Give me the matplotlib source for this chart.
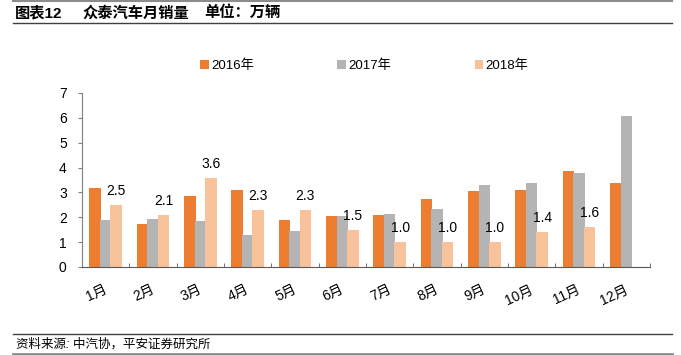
import matplotlib
matplotlib.use("Agg")
import matplotlib.pyplot as plt
import numpy as np
from matplotlib.lines import Line2D

plt.rcParams["font.family"] = ["Liberation Sans", "Noto Sans CJK SC", "DejaVu Sans"]

# 数据 (万辆)
months = ["1月", "2月", "3月", "4月", "5月", "6月", "7月", "8月", "9月", "10月", "11月", "12月"]
series_names = ["2016年", "2017年", "2018年"]
sales_2016 = [3.18, 1.74, 2.87, 3.08, 1.90, 2.04, 2.09, 2.72, 3.07, 3.11, 3.85, 3.36]
sales_2017 = [1.90, 1.93, 1.85, 1.29, 1.46, 2.06, 2.13, 2.32, 3.31, 3.38, 3.78, 6.09]
sales_2018 = [2.5, 2.1, 3.6, 2.3, 2.3, 1.5, 1.0, 1.0, 1.0, 1.4, 1.6, np.nan]

colors = ["#ED7D31", "#B4B4B4", "#F8C29B"]

fig = plt.figure(figsize=(6.81, 3.55), dpi=100)
ax = fig.add_axes([82 / 681, 1 - 267 / 355, 568 / 681, 174 / 355])

x = np.arange(len(months))
offset = 0.22
width = 0.245
for i, (vals, col) in enumerate(zip([sales_2016, sales_2017, sales_2018], colors)):
    ax.bar(x + (i - 1) * offset, vals, width=width, color=col, label=series_names[i], zorder=2)

# 2018年 数据标签
for xi, v in zip(x, sales_2018):
    if np.isnan(v):
        continue
    ax.annotate(f"{v:.1f}", (xi + offset, v), xytext=(0, 5), textcoords="offset points",
                ha="center", va="bottom", fontsize=10)

ax.set_xlim(-0.5, len(months) - 0.5)
ax.set_ylim(0, 7)
ax.set_yticks(range(8))
ax.set_xticks(x + 0.08)
ax.set_xticklabels(months, rotation=25, ha="right", va="top", fontsize=10)
ax.set_xticks(np.arange(-0.5, len(months), 1), minor=True)
ax.tick_params(axis="x", which="major", length=0, pad=11)
ax.tick_params(axis="x", which="minor", direction="in", length=3, color="#595959")
ax.tick_params(axis="y", length=3, color="#7F7F7F", labelsize=10, pad=8)
for s in ["top", "right"]:
    ax.spines[s].set_visible(False)
ax.spines["left"].set_color("#7F7F7F")
ax.spines["bottom"].set_color("#595959")

# 图例
fig.legend(loc="center", bbox_to_anchor=(0.535, 1 - 66 / 355), ncol=3, frameon=False,
           fontsize=9.5, handlelength=0.65, handleheight=0.65, handletextpad=0.2, columnspacing=6.3)

# 标题和来源
title_y = 1 - 13 / 355
fig.text(15 / 681, title_y, "图表12", fontsize=11, fontweight="bold", ha="left", va="center")
fig.text(82 / 681, title_y, "众泰汽车月销量", fontsize=11, fontweight="bold", ha="left", va="center")
fig.text(204 / 681, title_y, "单位：万辆", fontsize=11, fontweight="bold", ha="left", va="center")
fig.add_artist(Line2D([13 / 681, 672 / 681], [1 - 1 / 355] * 2, color="#8C8C8C", lw=1.5))
fig.add_artist(Line2D([13 / 681, 672 / 681], [1 - 23 / 355] * 2, color="#404040", lw=1.0))
fig.add_artist(Line2D([13 / 681, 672 / 681], [1 - 334 / 355] * 2, color="#404040", lw=1.0))
fig.add_artist(Line2D([13 / 681, 672 / 681], [1 - 353.5 / 355] * 2, color="#8C8C8C", lw=2.0))
fig.text(16 / 681, 1 - 344 / 355, "资料来源: 中汽协，平安证券研究所", fontsize=9,
         style="italic", ha="left", va="center")

fig.savefig("out.png", dpi=100, facecolor="white")
